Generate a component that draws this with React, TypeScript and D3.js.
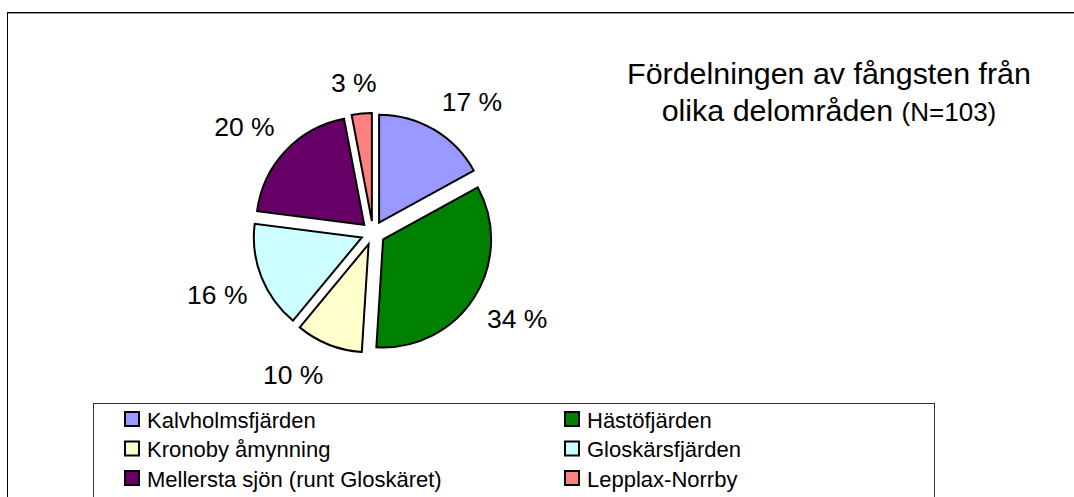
import React from "react";
import * as d3 from "d3";

const categories = [
  "Kalvholmsfjärden",
  "Hästöfjärden",
  "Kronoby åmynning",
  "Gloskärsfjärden",
  "Mellersta sjön (runt Gloskäret)",
  "Lepplax-Norrby",
];
const values = [17, 34, 10, 16, 20, 3];
const colors = ["#9999FF", "#008000", "#FFFFCC", "#CCFFFF", "#660066", "#FF8080"];
const titleLine1 = "Fördelningen av fångsten från";
const titleLine2a = "olika delområden ";
const titleLine2b = "(N=103)";

const W = 1074;
const H = 497;
const FONT = "'Liberation Sans', Arial, Helvetica, sans-serif";

export default function App() {
  const cx = 373;
  const cy = 233;
  const r = 108;
  const explode = 12;
  const labelEdgeX = 135;
  const labelEdgeY = 142;
  const labelFont = 26.5;

  const total = d3.sum(values);
  const pie = d3
    .pie<number>()
    .sort(null)
    .startAngle(0)
    .endAngle(2 * Math.PI)
    .value((d) => d);
  const arcs = pie(values);
  const arc = d3.arc<d3.PieArcDatum<number>>().innerRadius(0).outerRadius(r);
  const clamp = (v: number) => Math.max(-1, Math.min(1, v));

  const legendCols = [125, 565];
  const legendRows = [412, 441.5, 471];

  return (
    <svg
      width={W}
      height={H}
      style={{ position: "absolute", left: 0, top: 0, background: "#fff" }}
      fontFamily={FONT}
    >
      <rect x={0} y={0} width={W} height={H} fill="#fff" />
      {/* outer chart border */}
      <rect x={7.5} y={12.5} width={W + 20} height={H + 20} fill="none" stroke="#000" strokeWidth={1} />
      <line x1={8} x2={W} y1={13.5} y2={13.5} stroke="#999" strokeWidth={1} />

      {/* pie */}
      <g transform={`translate(${cx},${cy})`}>
        {arcs.map((a, i) => {
          const mid = (a.startAngle + a.endAngle) / 2;
          const dx = Math.sin(mid) * explode;
          const dy = -Math.cos(mid) * explode;
          return (
            <path
              key={i}
              d={arc(a) as string}
              transform={`translate(${dx},${dy})`}
              fill={colors[i]}
              stroke="#000"
              strokeWidth={2}
              strokeLinejoin="miter"
            />
          );
        })}
        {arcs.map((a, i) => {
          const mid = (a.startAngle + a.endAngle) / 2;
          const ux = Math.sin(mid);
          const uy = -Math.cos(mid);
          const txt = `${Math.round((values[i] / total) * 100)} %`;
          const halfW = (txt.length === 3 ? 1.723 : 2.279) * labelFont / 2;
          const halfH = 0.716 * labelFont / 2;
          const x = ux * labelEdgeX + clamp(3 * ux) * halfW;
          const y = uy * labelEdgeY + clamp(3 * uy) * halfH;
          return (
            <text
              key={"l" + i}
              x={x}
              y={y + halfH}
              textAnchor="middle"
              fontSize={labelFont}
              fill="#000"
            >
              {txt}
            </text>
          );
        })}
      </g>

      {/* title */}
      <text x={829} y={84} textAnchor="middle" fontSize={30.4} fill="#000">
        {titleLine1}
      </text>
      <text x={829} y={121} textAnchor="middle" fontSize={30.4} fill="#000">
        {titleLine2a}
        <tspan fontSize={26}>{titleLine2b}</tspan>
      </text>

      {/* legend */}
      <rect x={93.5} y={403.5} width={841} height={120} fill="#fff" stroke="#333" strokeWidth={1} />
      {categories.map((c, i) => {
        const col = i % 2;
        const row = Math.floor(i / 2);
        const x = legendCols[col];
        const y = legendRows[row];
        return (
          <g key={"lg" + i}>
            <rect x={x} y={y} width={14} height={14} fill={colors[i]} stroke="#000" strokeWidth={2} />
            <text x={x + 22} y={y + 15.5} fontSize={22} fill="#000">
              {c}
            </text>
          </g>
        );
      })}
    </svg>
  );
}
